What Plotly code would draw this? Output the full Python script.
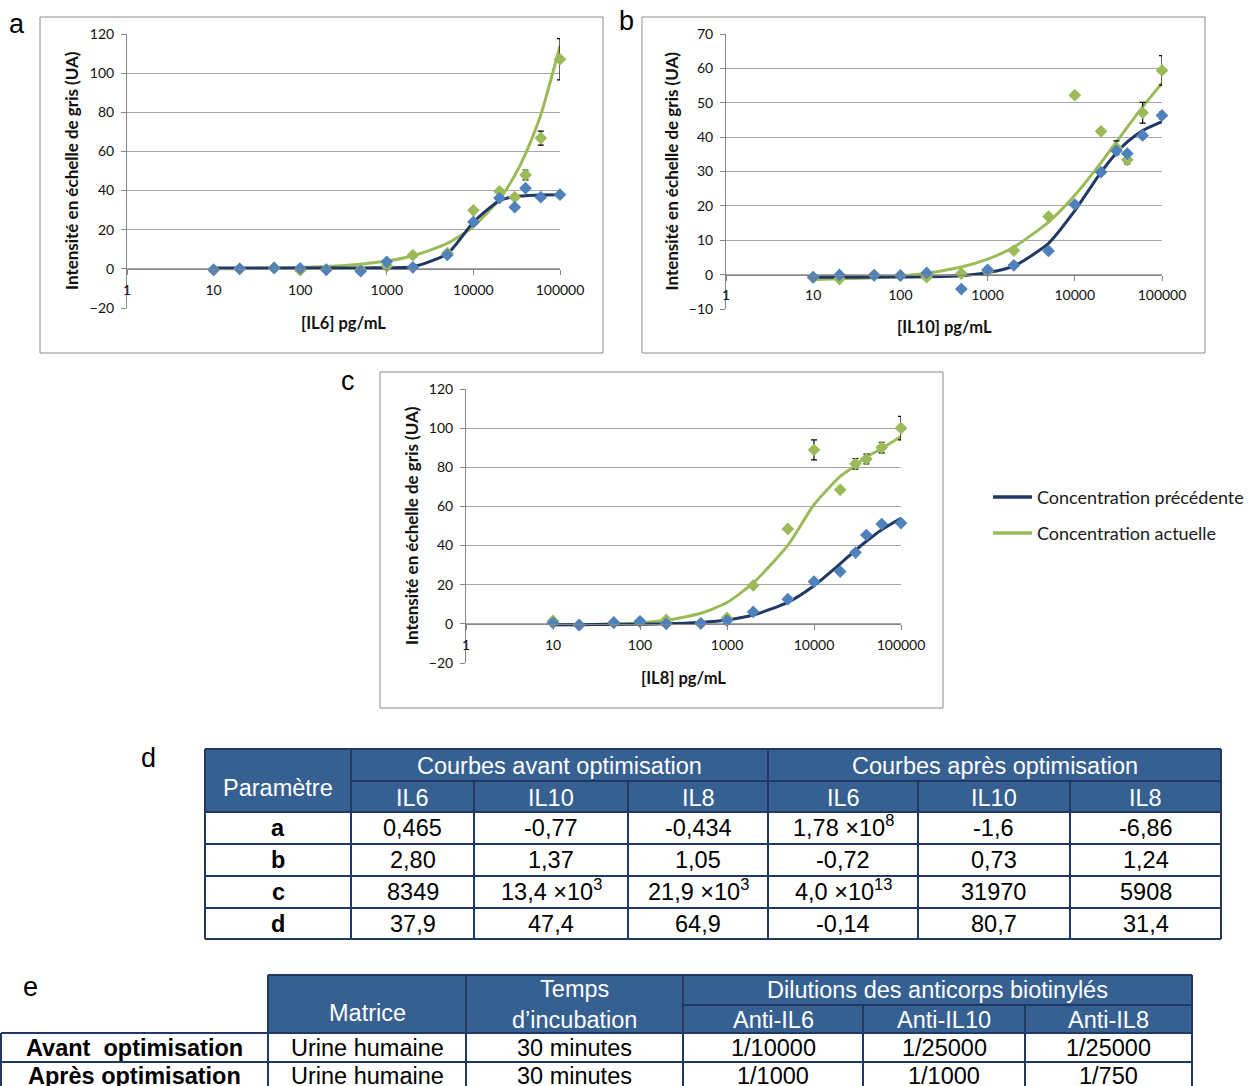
import plotly.graph_objects as go

W, H = 1248, 1086


def X(px):
    return px / W


def Y(py):
    return 1 - py / H


# ---------------- data ----------------
conc = [10, 20, 50, 100, 200, 500, 1000, 2000, 5000, 10000, 20000, 30000, 40000, 60000, 100000]
x_tick_vals = [1, 10, 100, 1000, 10000, 100000]
x_tick_text = ["1", "10", "100", "1000", "10000", "100000"]

series_names = ["Concentration précédente", "Concentration actuelle"]

# IL6
il6_prev_pts = [-0.5, 0.0, 0.5, 0.2, -0.5, -1.2, 3.6, 0.8, 7.1, 24.0, 36.2, 31.5, 41.2, 36.6, 37.9]
il6_prev_err = [None] * 15
il6_prev_fit = [0.5, 0.5, 0.5, 0.5, 0.5, 0.5, 0.6, 1.1, 7.7, 23.8, 34.9, 36.9, 37.4, 37.7, 37.9]
il6_curr_pts = [-0.5, 0.0, 0.5, -0.7, -0.3, -0.5, 1.4, 7.0, 8.0, 29.9, 39.6, 36.6, 48.0, 66.8, 107.1]
il6_curr_err = [None] * 12 + [2.5, 3.6, 10.5]
il6_curr_fit = [0.0, 0.1, 0.3, 0.7, 1.2, 2.4, 4.0, 6.7, 13.0, 21.6, 35.6, 47.7, 58.8, 78.7, 113.9]

# IL10
il10_prev_pts = [-0.7, -0.1, -0.2, -0.3, 0.5, -4.2, 1.4, 2.7, 6.9, 20.4, 29.8, 36.0, 35.2, 40.5, 46.3]
il10_prev_err = [None] * 14 + [1.0]
il10_prev_fit = [-0.8, -0.8, -0.7, -0.7, -0.6, -0.3, 0.6, 2.5, 9.1, 18.6, 29.8, 35.4, 38.6, 41.9, 44.5]
il10_curr_pts = [-0.9, -1.3, -0.1, -0.2, -0.7, 0.3, 1.0, 7.0, 16.9, 52.2, 41.7, 36.9, 33.4, 47.1, 59.4]
il10_curr_err = [None] * 9 + [0.5, 0.7, 2.0, 1.2, 3.0, 4.3]
il10_curr_fit = [-1.4, -1.2, -0.9, -0.4, 0.4, 2.2, 4.5, 8.0, 15.3, 23.1, 32.6, 38.6, 42.9, 48.8, 55.7]

# IL8
il8_prev_pts = [0.5, -0.7, 0.7, 1.3, 0.0, 0.2, 1.7, 6.1, 12.6, 21.6, 26.7, 36.4, 45.4, 51.0, 51.5]
il8_prev_err = [None] * 15
il8_prev_fit = [-0.4, -0.4, -0.3, -0.2, 0.0, 0.8, 2.0, 4.5, 11.0, 19.5, 30.7, 37.6, 42.2, 48.1, 53.9]
il8_curr_pts = [1.5, -0.5, 0.5, 1.0, 2.0, 0.3, 3.0, 19.6, 48.5, 88.9, 68.5, 81.8, 84.2, 90.1, 100.0]
il8_curr_err = [None] * 9 + [5.1, None, 2.7, 2.5, 2.7, 6.0]
il8_curr_fit = [-0.5, -0.4, 0.0, 0.5, 1.8, 5.4, 10.9, 20.9, 40.1, 60.9, 75.3, 81.0, 85.2, 89.6, 95.7]

y_title = "Intensité en échelle de gris (UA)"

# table d
td_param_header = "Paramètre"
td_groups = ["Courbes avant optimisation", "Courbes après optimisation"]
td_sub = ["IL6", "IL10", "IL8", "IL6", "IL10", "IL8"]
td_params = ["a", "b", "c", "d"]
td_values = [
    ["0,465", "-0,77", "-0,434", "1,78 ×10<sup>8</sup>", "-1,6", "-6,86"],
    ["2,80", "1,37", "1,05", "-0,72", "0,73", "1,24"],
    ["8349", "13,4 ×10<sup>3</sup>", "21,9 ×10<sup>3</sup>", "4,0 ×10<sup>13</sup>", "31970", "5908"],
    ["37,9", "47,4", "64,9", "-0,14", "80,7", "31,4"],
]

# table e
te_headers = ["Matrice", "Temps<br>d’incubation"]
te_group = "Dilutions des anticorps biotinylés"
te_sub = ["Anti-IL6", "Anti-IL10", "Anti-IL8"]
te_rows = ["Avant\u00a0 optimisation", "Après optimisation"]
te_values = [
    ["Urine humaine", "30 minutes", "1/10000", "1/25000", "1/25000"],
    ["Urine humaine", "30 minutes", "1/1000", "1/1000", "1/750"],
]

# ---------------- styling / layout ----------------
LINE_COLORS = ["#1F3864", "#9BBB59"]
MARK_COLORS = ["#4F81BD", "#9BBB59"]
AX_COLOR = "#868686"
GRID_COLOR = "#A6A6A6"
CHART_FONT = "Lato, Carlito, Calibri, sans-serif"
TABLE_FONT = "Liberation Sans, Arial, sans-serif"
TABLE_SIZE = 23.5
HDR_FILL = "#376092"
BORDER = "#1F3864"

panels = [
    dict(label="a", label_pos=(17, 24), frame=(40, 17, 603, 353), plot=(127, 34, 560, 308),
         yr=(-20, 120), dt=20, xtitle="[IL6] pg/mL", xtitle_y=323,
         prev=(il6_prev_pts, il6_prev_err, il6_prev_fit), curr=(il6_curr_pts, il6_curr_err, il6_curr_fit)),
    dict(label="b", label_pos=(626, 21), frame=(642, 17, 1205, 353), plot=(726, 34, 1162, 309),
         yr=(-10, 70), dt=10, xtitle="[IL10] pg/mL", xtitle_y=327,
         prev=(il10_prev_pts, il10_prev_err, il10_prev_fit), curr=(il10_curr_pts, il10_curr_err, il10_curr_fit)),
    dict(label="c", label_pos=(348, 381), frame=(380, 372, 943, 708), plot=(466, 389, 901, 663),
         yr=(-20, 120), dt=20, xtitle="[IL8] pg/mL", xtitle_y=678,
         prev=(il8_prev_pts, il8_prev_err, il8_prev_fit), curr=(il8_curr_pts, il8_curr_err, il8_curr_fit)),
]

fig = go.Figure()
shapes = []
annotations = []

for i, p in enumerate(panels):
    s = "" if i == 0 else str(i + 1)
    xa, ya = "x" + s, "y" + s
    l, t, r, b = p["plot"]
    y0, y1 = p["yr"]
    dom_y = [Y(b), Y(t)]
    zero_pos = dom_y[0] + (0 - y0) / (y1 - y0) * (dom_y[1] - dom_y[0])

    fig.layout["xaxis" + s] = dict(
        type="log", range=[0, 5], domain=[X(l), X(r)], anchor="free", position=zero_pos,
        showline=True, linecolor=AX_COLOR, linewidth=1, ticks="outside", ticklen=5,
        tickcolor=AX_COLOR, tickvals=x_tick_vals, ticktext=x_tick_text, showgrid=False,
        zeroline=False, tickfont=dict(family=CHART_FONT, size=14, color="#111"),
        ticklabelstandoff=3, fixedrange=True, automargin=False,
    )
    fig.layout["yaxis" + s] = dict(
        range=[y0, y1], domain=dom_y, anchor=xa, showline=True, linecolor=AX_COLOR,
        linewidth=1, ticks="outside", ticklen=5, tickcolor=AX_COLOR, tick0=0, dtick=p["dt"],
        showgrid=True, gridcolor=GRID_COLOR, gridwidth=1, zeroline=False,
        tickfont=dict(family=CHART_FONT, size=14, color="#111"), ticklabelstandoff=4,
        fixedrange=True, automargin=False,
    )

    # fitted curves
    for key in ["curr", "prev"]:
        idx = 1 if key == "curr" else 0
        pts, err, fit = p[key]
        fig.add_trace(go.Scatter(
            x=conc, y=fit, mode="lines", xaxis=xa, yaxis=ya, name=series_names[idx],
            line=dict(color=LINE_COLORS[idx], width=3, shape="spline", smoothing=0.6),
            showlegend=False, hoverinfo="skip", cliponaxis=False))
    # measured points
    for key in ["curr", "prev"]:
        idx = 1 if key == "curr" else 0
        pts, err, fit = p[key]
        fig.add_trace(go.Scatter(
            x=conc, y=pts, mode="markers", xaxis=xa, yaxis=ya, name=series_names[idx],
            marker=dict(symbol="diamond", size=9.8, color=MARK_COLORS[idx]),
            error_y=dict(type="data", array=err, visible=True, color="black", thickness=1.2, width=3),
            showlegend=False, cliponaxis=False))

    # frame
    fl, ft, fr, fb = p["frame"]
    shapes.append(dict(type="rect", xref="paper", yref="paper", x0=X(fl), x1=X(fr), y0=Y(fb), y1=Y(ft),
                       line=dict(color="#8C8C8C", width=1), fillcolor="rgba(0,0,0,0)", layer="below"))
    # titles
    annotations.append(dict(text="<b>" + y_title + "</b>", xref="paper", yref="paper", x=X(l - 55),
                            y=Y((t + b) / 2), textangle=-90, showarrow=False, xanchor="center",
                            yanchor="middle", font=dict(family=CHART_FONT, size=17, color="#111")))
    annotations.append(dict(text="<b>" + p["xtitle"] + "</b>", xref="paper", yref="paper",
                            x=X((l + r) / 2), y=Y(p["xtitle_y"]), showarrow=False,
                            xanchor="center", yanchor="middle",
                            font=dict(family=CHART_FONT, size=16.5, color="#111")))
    lx, ly = p["label_pos"]
    annotations.append(dict(text=p["label"], xref="paper", yref="paper", x=X(lx), y=Y(ly),
                            showarrow=False, xanchor="center", yanchor="middle",
                            font=dict(family=TABLE_FONT, size=27, color="#000")))

# ---------------- legend (custom) ----------------
legend_rows = [497, 533]
for idx, py in enumerate(legend_rows):
    shapes.append(dict(type="line", xref="paper", yref="paper", x0=X(993), x1=X(1032), y0=Y(py), y1=Y(py),
                       line=dict(color=LINE_COLORS[idx], width=3.5)))
    annotations.append(dict(text=series_names[idx], xref="paper", yref="paper", x=X(1035), y=Y(py),
                            showarrow=False, xanchor="left", yanchor="middle",
                            font=dict(family=CHART_FONT, size=18, color="#1a1a1a")))

# ---------------- table d ----------------
cd = [205, 351, 474, 628, 768, 918, 1070, 1221]
rd = [749, 781, 812, 844, 876, 908, 939]


def hline(px0, px1, py, w=2):
    shapes.append(dict(type="line", xref="paper", yref="paper", x0=X(px0), x1=X(px1), y0=Y(py), y1=Y(py),
                       line=dict(color=BORDER, width=w)))


def vline(px, py0, py1, w=2):
    shapes.append(dict(type="line", xref="paper", yref="paper", x0=X(px), x1=X(px), y0=Y(py0), y1=Y(py1),
                       line=dict(color=BORDER, width=w)))


def text(t, px, py, color="#000", bold=False, size=TABLE_SIZE, anchor="center"):
    annotations.append(dict(text=("<b>%s</b>" % t) if bold else t, xref="paper", yref="paper",
                            x=X(px), y=Y(py), showarrow=False, xanchor=anchor, yanchor="middle",
                            font=dict(family=TABLE_FONT, size=size, color=color)))


shapes.append(dict(type="rect", xref="paper", yref="paper", x0=X(cd[0]), x1=X(cd[-1]), y0=Y(rd[2]),
                   y1=Y(rd[0]), fillcolor=HDR_FILL, line=dict(width=0)))
hline(cd[0], cd[-1], rd[0])
hline(cd[1], cd[-1], rd[1])
for py in rd[2:]:
    hline(cd[0], cd[-1], py)
for px in [cd[0], cd[1], cd[4], cd[-1]]:
    vline(px, rd[0], rd[-1])
for px in [cd[2], cd[3], cd[5], cd[6]]:
    vline(px, rd[1], rd[-1])

text(td_param_header, (cd[0] + cd[1]) / 2, 788, color="white")
text(td_groups[0], (cd[1] + cd[4]) / 2, (rd[0] + rd[1]) / 2 + 1, color="white")
text(td_groups[1], (cd[4] + cd[7]) / 2, (rd[0] + rd[1]) / 2 + 1, color="white")
for j, s in enumerate(td_sub):
    text(s, (cd[j + 1] + cd[j + 2]) / 2, (rd[1] + rd[2]) / 2 + 1, color="white")
for i, prm in enumerate(td_params):
    yc = (rd[i + 2] + rd[i + 3]) / 2
    text(prm, (cd[0] + cd[1]) / 2, yc, bold=True)
    for j, v in enumerate(td_values[i]):
        text(v, (cd[j + 1] + cd[j + 2]) / 2, yc - (2 if "<sup>" in v else 0))

annotations.append(dict(text="d", xref="paper", yref="paper", x=X(148), y=Y(758), showarrow=False,
                        xanchor="center", yanchor="middle", font=dict(family=TABLE_FONT, size=27, color="#000")))

# ---------------- table e ----------------
ce = [1, 268, 466, 683, 863, 1025, 1192]
re_ = [975, 1005, 1033, 1062, 1091]

shapes.append(dict(type="rect", xref="paper", yref="paper", x0=X(ce[1]), x1=X(ce[-1]), y0=Y(re_[2]),
                   y1=Y(re_[0]), fillcolor=HDR_FILL, line=dict(width=0)))
hline(ce[1], ce[-1], re_[0])
hline(ce[3], ce[-1], re_[1])
for py in re_[2:]:
    hline(ce[0], ce[-1], py)
vline(ce[0], re_[2], re_[-1])
for px in [ce[1], ce[2], ce[3], ce[-1]]:
    vline(px, re_[0], re_[-1])
for px in [ce[4], ce[5]]:
    vline(px, re_[1], re_[-1])

text(te_headers[0], (ce[1] + ce[2]) / 2, 1013, color="white")
text(te_headers[1], (ce[2] + ce[3]) / 2, 1004, color="white")
text(te_group, (ce[3] + ce[6]) / 2, 990, color="white")
for j, s in enumerate(te_sub):
    text(s, (ce[j + 3] + ce[j + 4]) / 2, 1020, color="white")
for i, rl in enumerate(te_rows):
    yc = [1048, 1076][i]
    text(rl, (ce[0] + ce[1]) / 2, yc, bold=True)
    for j, v in enumerate(te_values[i]):
        text(v, (ce[j + 1] + ce[j + 2]) / 2, yc)

annotations.append(dict(text="e", xref="paper", yref="paper", x=X(31), y=Y(987), showarrow=False,
                        xanchor="center", yanchor="middle", font=dict(family=TABLE_FONT, size=27, color="#000")))

fig.update_layout(
    width=W, height=H, margin=dict(l=0, r=0, t=0, b=0, pad=0, autoexpand=False),
    paper_bgcolor="white", plot_bgcolor="white", showlegend=False,
    shapes=shapes, annotations=annotations,
)

fig.write_html("out.html", config={"displayModeBar": False},
               post_script="document.body.style.margin='0';document.body.style.overflow='hidden';")
